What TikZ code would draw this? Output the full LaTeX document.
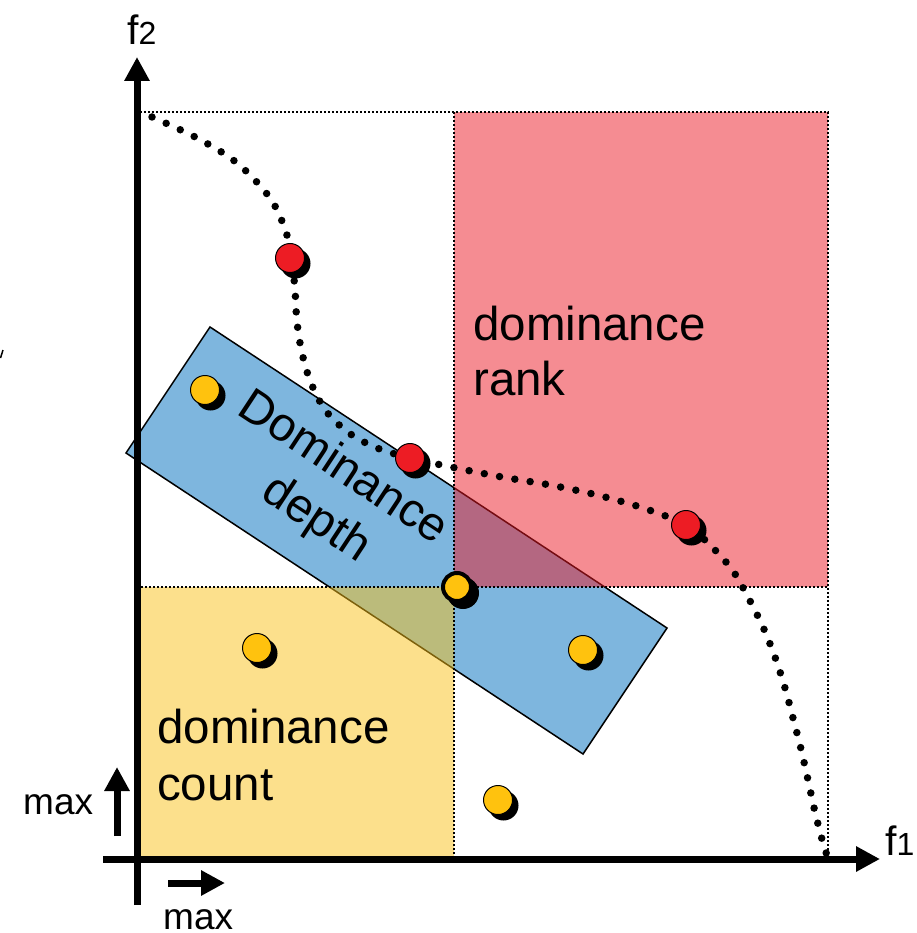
\documentclass[tikz,border=0pt]{standalone}
\usepackage{fontspec}
\setmainfont{Liberation Sans}
\usetikzlibrary{arrows.meta,calc}
\definecolor{rblue}{RGB}{126,182,222}
\definecolor{rred}{RGB}{235,25,37}
\definecolor{ryel}{RGB}{249,193,25}
\definecolor{dotred}{RGB}{237,28,36}
\definecolor{dotyel}{RGB}{255,194,14}
\tikzset{
  region/.style={fill opacity=0.5, draw=none},
  guide/.style={line width=1.8pt, dash pattern=on 2pt off 2pt},
  axis/.style={line width=7pt, -{Triangle[width=24pt,length=24pt]}},
  frontline/.style={line width=7.5pt, line cap=round, dash pattern=on 0pt off 15.5pt},
  lbl/.style={inner sep=0pt, anchor=base west, font=\fontsize{47.5}{56}\selectfont},
  small/.style={inner sep=0pt, anchor=base west, font=\fontsize{37}{40}\selectfont},
  rlbl/.style={inner sep=0pt, rotate=-33.4, font=\fontsize{47.5}{56}\selectfont},
}
\newcommand{\soldot}[3]{%
  \fill[black] ($(#1)+(5.5,5.5)$) circle (15);
  \filldraw[fill=#2, draw=black, line width=#3] (#1) circle (14.5);
}
\begin{document}
\begin{tikzpicture}[x=1pt,y=-1pt]
\useasboundingbox (0,0) rectangle (916,933);
% blue rotated rectangle
\filldraw[fill=rblue, draw=black, line width=1.5pt] (210,327) -- (667,628) -- (583,754) -- (126,453) -- cycle;
% red and yellow regions
\fill[rred, region] (454,112) rectangle (828,587);
\fill[ryel, region] (137,587) rectangle (454,858);
% guide lines
\draw[guide] (140,112) -- (828,112) -- (828,858);
\draw[guide] (454,112) -- (454,858);
\draw[guide] (137,587) -- (828,587);
% axes
\coordinate (o1) at (137,905);
\coordinate (t2) at (137,57);
\coordinate (o2) at (103,859);
\coordinate (t1) at (880,859);
\draw[axis] (o1) -- (t2);
\draw[axis] (o2) -- (t1);
\node[inner sep=0pt, anchor=base west, font=\fontsize{41}{41}\selectfont] (f2) at (127,45) {f{\fontsize{32}{32}\selectfont 2}};
\node[inner sep=0pt, anchor=base west, font=\fontsize{41}{41}\selectfont] (f1) at (885,855) {f{\fontsize{32}{32}\selectfont 1}};
% max arrows
\coordinate (ma1) at (117,836);
\coordinate (mb1) at (117,767);
\coordinate (ma2) at (168,883);
\coordinate (mb2) at (225,883);
\draw[axis] (ma1) -- (mb1);
\draw[axis] (ma2) -- (mb2);
\node[small] (max1) at (23,814) {max};
\node[small] (max2) at (163,929) {max};
% stray mark
\draw[line width=1.5pt] (0.5,358) -- (3,350);
% front
\draw[frontline] plot[smooth, tension=0.55] coordinates {(152,117) (197,138) (237,163) (270,198) (286,232) (292,262) (295,290) (297,322) (302,353) (311,383) (326,411) (349,433) (377,448) (410,458) (456,468) (502,477) (550,485) (597,495) (643,508) (686,525) (712,547) (733,571) (749,599) (763,627) (775,657) (785,688) (793,718) (801,749) (808,780) (815,812) (823,843) (828,858)};
% solutions
\coordinate (r1) at (290,258);
\coordinate (r2) at (410,458);
\coordinate (r3) at (686,525);
\coordinate (y1) at (205,390);
\coordinate (y3) at (257,648);
\coordinate (y4) at (583,650);
\coordinate (y5) at (498,800);
\soldot{r1}{dotred}{1pt}
\soldot{r2}{dotred}{1pt}
\soldot{r3}{dotred}{1pt}
\soldot{y1}{dotyel}{1pt}
\soldot{y3}{dotyel}{1pt}
\soldot{y4}{dotyel}{1pt}
\soldot{y5}{dotyel}{1pt}
\coordinate (y2) at (457,587);
\fill[black] ($(y2)+(6,6)$) circle (16);
\filldraw[fill=dotyel, draw=black, line width=4pt] (y2) circle (14);
% labels
\node[lbl] (rk1) at (473,340) {dominance};
\node[lbl] (rk2) at (473,395) {rank};
\node[lbl] (ct1) at (157,743) {dominance};
\node[lbl] (ct2) at (157,800) {count};
\node[rlbl] (dd1) at (345,465) {Dominance};
\node[rlbl] (dd2) at (316,520) {depth};
\end{tikzpicture}
\end{document}
